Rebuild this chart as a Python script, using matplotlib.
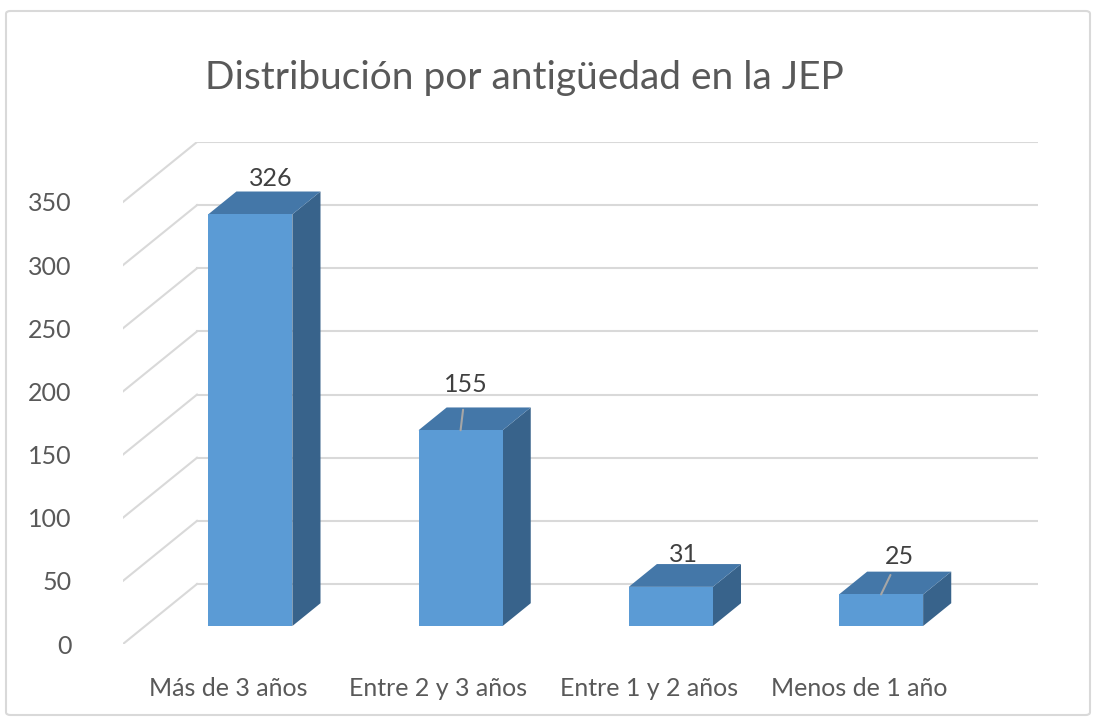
import matplotlib.pyplot as plt
from matplotlib.patches import Polygon, FancyBboxPatch

plt.rcParams['font.family'] = ['Lato', 'DejaVu Sans']

categorias = ['Más de 3 años', 'Entre 2 y 3 años', 'Entre 1 y 2 años', 'Menos de 1 año']
valores = [326, 155, 31, 25]
titulo = 'Distribución por antigüedad en la JEP'
yticks = [0, 50, 100, 150, 200, 250, 300, 350]

# colores estilo Excel 3D
c_frente = '#5B9BD5'
c_arriba = '#4477A8'
c_lado = '#38638B'
c_grid = '#D9D9D9'
c_texto = '#595959'

# profundidad oblicua (en unidades de categoria / valor)
DX = 0.352
DY = 47.5
f1, f2 = 0.30, 0.68   # frente y fondo de las barras dentro de la profundidad
w = 0.2               # media anchura de barra

fig = plt.figure(figsize=(10.95, 7.21), dpi=100)
W, H = 1095, 721
# borde gris del grafico
fig.patches.append(FancyBboxPatch((6 / W, 6 / H), 1084 / W, 704 / H,
                                  boxstyle='round,pad=0,rounding_size=0.004',
                                  transform=fig.transFigure, fill=False,
                                  edgecolor='#D9D9D9', linewidth=1.5))

ax = fig.add_axes([123 / W, (H - 644) / H, 915 / W, 502 / H])
ax.set_xlim(0, len(categorias) + DX)
ax.set_ylim(0, yticks[-1] + DY)
for s in ax.spines.values():
    s.set_visible(False)

# rejilla: pared del fondo y pared izquierda
n = len(categorias)
for v in yticks:
    ax.plot([DX, n + DX], [v + DY, v + DY], color=c_grid, lw=1.5, zorder=1)
    ax.plot([0, DX], [v, v + DY], color=c_grid, lw=1.5, zorder=1)

ax.set_yticks(yticks)
ax.set_yticklabels([str(t) for t in yticks])
ax.set_xticks([i + 0.5 for i in range(n)])
ax.set_xticklabels(categorias)
ax.tick_params(axis='y', length=0, pad=37, labelsize=18, labelcolor=c_texto)
ax.tick_params(axis='x', length=0, pad=24, labelsize=18, labelcolor=c_texto)

# desplazamiento de etiquetas (puntos), linea guia y su recorte
etq_offset = [(15, 26), (4, 33), (9, 23), (13, 27)]
etq_linea = [False, True, False, True]
etq_recorte = [0, 8, 0, 3]

for i, v in enumerate(valores):
    c = i + 0.5
    x0, x1 = c - w + f1 * DX, c + w + f1 * DX
    y0 = f1 * DY
    bx0, bx1 = c - w + f2 * DX, c + w + f2 * DX
    by0 = f2 * DY
    frente = [(x0, y0), (x1, y0), (x1, y0 + v), (x0, y0 + v)]
    arriba = [(x0, y0 + v), (x1, y0 + v), (bx1, by0 + v), (bx0, by0 + v)]
    lado = [(x1, y0), (bx1, by0), (bx1, by0 + v), (x1, y0 + v)]
    ax.add_patch(Polygon(lado, closed=True, facecolor=c_lado, edgecolor='none', zorder=3))
    ax.add_patch(Polygon(arriba, closed=True, facecolor=c_arriba, edgecolor='none', zorder=3))
    ax.add_patch(Polygon(frente, closed=True, facecolor=c_frente, edgecolor='none', zorder=4))

    props = None
    if etq_linea[i]:
        props = dict(arrowstyle='-', color='#A6A6A6', lw=1.5,
                     shrinkA=etq_recorte[i], shrinkB=0)
    ax.annotate(str(v), xy=(c + f1 * DX, y0 + v), xytext=etq_offset[i],
                textcoords='offset points', ha='center', va='center',
                fontsize=18, color='#404040', arrowprops=props, zorder=5)

fig.text(524 / W, 1 - 78 / H, titulo, ha='center', va='center',
         fontsize=28, color=c_texto)

plt.savefig('out.png', dpi=100)
